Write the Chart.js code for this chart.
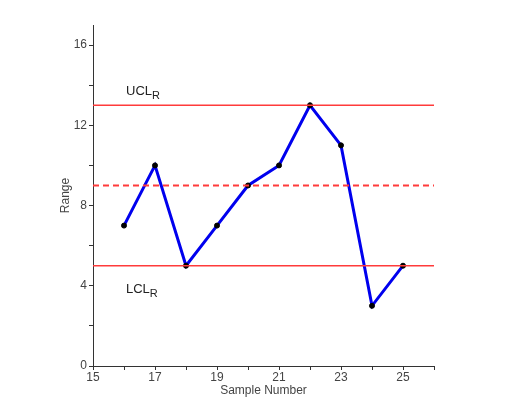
<!DOCTYPE html>
<html>
<head>
<meta charset="utf-8">
<script src="https://cdn.jsdelivr.net/npm/chart.js@4"></script>
<style>
html,body{margin:0;padding:0;background:#fff;}
#wrap{width:514px;height:409px;}
</style>
</head>
<body>
<div id="wrap"><canvas id="c" width="514" height="409"></canvas></div>
<script>
const samples = [16, 17, 18, 19, 20, 21, 22, 23, 24, 25];
const ranges = [7, 10, 5, 7, 9, 10, 13, 11, 3, 5];
const UCL = 13;
const CL = 9;
const LCL = 5;
const xLimits = [15, 26];
const yLimits = [0, 17];
const xTickLabels = [15, 17, 19, 21, 23, 25];
const yTickLabels = [0, 4, 8, 12, 16];

const pts = samples.map((s, i) => ({x: s, y: ranges[i]}));
const hline = v => [{x: xLimits[0], y: v}, {x: xLimits[1], y: v}];

const labelPlugin = {
  id: 'clLabels',
  afterDatasetsDraw(chart) {
    const ctx = chart.ctx;
    const xs = chart.scales.x, ys = chart.scales.y;
    const x0 = xs.getPixelForValue(xLimits[0]) + 33;
    ctx.save();
    ctx.fillStyle = '#222';
    ctx.textBaseline = 'alphabetic';
    const draw = (main, sub, y) => {
      ctx.font = '13px "Liberation Sans", Arial, sans-serif';
      ctx.fillText(main, x0, y);
      const w = ctx.measureText(main).width;
      ctx.font = '11px "Liberation Sans", Arial, sans-serif';
      ctx.fillText(sub, x0 + w, y + 4);
    };
    draw('UCL', 'R', ys.getPixelForValue(UCL) - 10);
    draw('LCL', 'R', ys.getPixelForValue(LCL) + 27);
    ctx.restore();
  }
};

const tickFont = {family: '"Liberation Sans", Arial, sans-serif', size: 12};

new Chart(document.getElementById('c'), {
  type: 'line',
  data: {
    datasets: [
      {data: hline(UCL), borderColor: '#ff3b3b', borderWidth: 1.5, pointRadius: 0, order: 0},
      {data: hline(CL), borderColor: '#ff3b3b', borderWidth: 2, borderDash: [6, 4], pointRadius: 0, order: 0},
      {data: hline(LCL), borderColor: '#ff3b3b', borderWidth: 1.5, pointRadius: 0, order: 0},
      {data: pts, borderColor: '#0000ee', borderWidth: 3, pointRadius: 2.5, pointBackgroundColor: '#000',
       pointBorderColor: '#000', pointBorderWidth: 1, order: 1}
    ]
  },
  options: {
    responsive: false,
    animation: false,
    layout: {padding: {left: 58, right: 80, top: 25, bottom: 11}},
    plugins: {legend: {display: false}, tooltip: {enabled: false}},
    scales: {
      x: {
        type: 'linear', min: xLimits[0], max: xLimits[1],
        border: {display: true, color: '#333', width: 1},
        grid: {display: true, drawOnChartArea: false, drawTicks: true, tickLength: 4, color: '#333'},
        ticks: {stepSize: 1, autoSkip: false, maxRotation: 0, color: '#444', font: tickFont, padding: 0,
          callback: v => xTickLabels.includes(v) ? String(v) : ''},
        title: {display: true, text: 'Sample Number', color: '#444', font: tickFont, padding: {top: 0, bottom: 0}},
        afterFit: s => { s.height = 32; }
      },
      y: {
        type: 'linear', min: yLimits[0], max: yLimits[1],
        border: {display: true, color: '#333', width: 1},
        grid: {display: true, drawOnChartArea: false, drawTicks: true, tickLength: 4, color: '#333'},
        ticks: {stepSize: 2, autoSkip: false, color: '#444', font: tickFont, padding: 2,
          callback: v => (v % 2 !== 0) ? null : (yTickLabels.includes(v) ? String(v) : '')},
        title: {display: true, text: 'Range', color: '#444', font: tickFont, padding: {top: 0, bottom: 8}},
        afterFit: s => { s.width = 35; }
      }
    }
  },
  plugins: [labelPlugin]
});
</script>
</body>
</html>
